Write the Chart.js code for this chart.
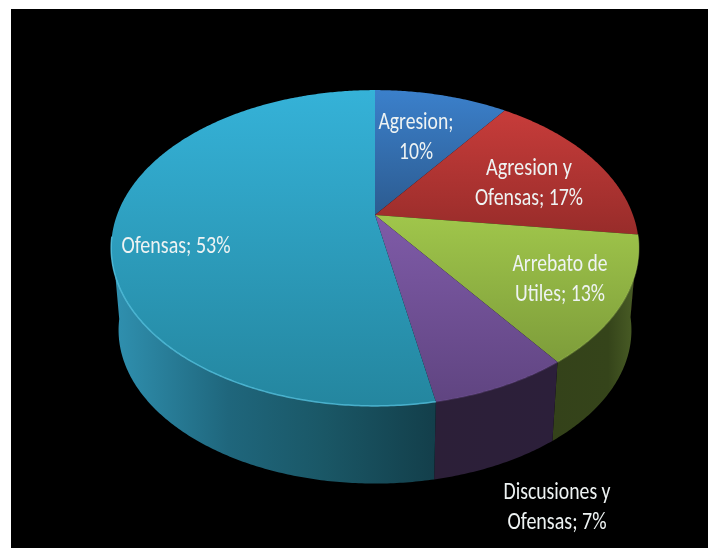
<!DOCTYPE html>
<html><head><meta charset="utf-8">
<style>html,body{margin:0;padding:0;background:#fff}canvas{display:block}</style>
<script src="https://cdn.jsdelivr.net/npm/chart.js@4"></script>
</head><body><canvas id="c" width="708" height="548"></canvas>
<script>
const categories = ['Agresion', 'Agresion y Ofensas', 'Arrebato de Utiles', 'Discusiones y Ofensas', 'Ofensas'];
const values = [10, 17, 13, 7, 53];
const labelLines = [['Agresion;', '10%'], ['Agresion y', 'Ofensas; 17%'], ['Arrebato de', 'Utiles; 13%'], ['Discusiones y', 'Ofensas; 7%'], ['Ofensas; 53%']];
const labelCentres = [[416, 122], [529, 168], [560, 264], [557, 492], [176, 246]];
const labelWidths = [[75, 34], [86, 108], [95, 90], [107, 99], [109]];
const topLight = ['#3b80cb', '#cf3f3d', '#a0c64b', '#7f5ba8', '#35b2d8'];
const topDark = ['#2c5b90', '#982c2a', '#7d9c3a', '#5f4480', '#24869f'];
const wallStops = [
  [['#1c3c60', 0], ['#1c3c60', 1]],
  [['#5a1a18', 0], ['#5a1a18', 1]],
  [['#34421a', 0], ['#35441a', .7], ['#475a24', 1]],
  [['#2c1f3a', 0], ['#2c1f38', 1]],
  [['#2f8fae', 0], ['#1f667c', .35], ['#1a5766', .65], ['#133f4b', 1]]
];
const rimColor = ['#4a90d8', '#d85452', '#a9cc5c', '#8a68b2', '#56c4e2'];
const rimAlpha = [0, 0, 0.35, 0.25, 0.8];

// Perspective of the pie disc
const P = {cx: 375, cy: 215, a: 258, b: 151, k: 0.209, wallCy: 298, wallScale: 0.972, left: 118, right: 632,
           frontFrom: 97 * Math.PI / 180, frontTo: 262 * Math.PI / 180};
function proj(theta, floor) {
  const u = Math.sin(theta), v = -Math.cos(theta), w = 1 - P.k * v;
  const s = floor ? P.wallScale : 1;
  return [P.cx + s * P.a * u / w, (floor ? P.wallCy : P.cy) + s * P.b * v / w];
}
function tracer(ctx, start, end, floor, first) {
  const n = Math.max(4, Math.ceil(Math.abs(end - start) / 0.01));
  for (let i = 0; i <= n; i++) {
    const p = proj(start + (end - start) * i / n, floor);
    if (i === 0 && first) ctx.moveTo(p[0], p[1]); else ctx.lineTo(p[0], p[1]);
  }
}
const pie3d = {
  id: 'pie3d',
  beforeDraw(chart) {
    const ctx = chart.ctx;
    ctx.save();
    ctx.fillStyle = '#fff'; ctx.fillRect(0, 0, 708, 548);
    ctx.fillStyle = '#000'; ctx.fillRect(11, 9, 697, 539);
    ctx.restore();
  },
  beforeDatasetsDraw(chart) {
    const ctx = chart.ctx;
    const arcs = chart.getDatasetMeta(0).data;
    const ang = arcs.map(a => [a.startAngle + Math.PI / 2, a.endAngle + Math.PI / 2]);
    ctx.save();
    // walls: only the part of each slice that faces the viewer
    arcs.forEach((a, i) => {
      const s = Math.max(ang[i][0], P.frontFrom), e = Math.min(ang[i][1], P.frontTo);
      if (e <= s) return;
      const x0 = i === 4 ? P.left : proj(s, true)[0], x1 = i === 4 ? proj(s, true)[0] : proj(e, true)[0];
      const g = i === 2 ? ctx.createLinearGradient(proj(e, true)[0], 0, P.right, 0) : ctx.createLinearGradient(x0, 0, x1, 0);
      wallStops[i].forEach(st => g.addColorStop(st[1], st[0]));
      ctx.fillStyle = g;
      ctx.beginPath();
      tracer(ctx, s, e, false, true);
      tracer(ctx, e, s, true, false);
      ctx.closePath();
      ctx.fill();
    });
    // top surface
    arcs.forEach((a, i) => {
      let y0 = 90, y1 = 406;
      if (i === 0) y1 = P.cy;
      if (i === 1) y1 = 234;
      if (i === 2) { y0 = P.cy; y1 = 364; }
      if (i === 3) y0 = P.cy;
      const g = ctx.createLinearGradient(0, y0, 0, y1);
      g.addColorStop(0, topLight[i]);
      g.addColorStop(1, topDark[i]);
      ctx.fillStyle = g;
      ctx.beginPath();
      ctx.moveTo(P.cx, P.cy);
      tracer(ctx, ang[i][0], ang[i][1], false, false);
      ctx.closePath();
      ctx.fill();
    });
    // lit bevel on the near rim
    ctx.lineWidth = 1.5;
    ctx.lineJoin = 'round';
    arcs.forEach((a, i) => {
      const s = Math.max(ang[i][0], P.frontFrom), e = Math.min(ang[i][1], P.frontTo);
      if (e <= s || !rimAlpha[i]) return;
      ctx.strokeStyle = rimColor[i];
      ctx.globalAlpha = rimAlpha[i];
      ctx.beginPath();
      tracer(ctx, s, e, false, true);
      ctx.stroke();
    });
    ctx.globalAlpha = 1;
    ctx.restore();
    // labels
    ctx.save();
    ctx.font = '24px Carlito, Lato, sans-serif';
    ctx.fillStyle = '#eef3f3';
    ctx.textAlign = 'center';
    ctx.textBaseline = 'middle';
    labelLines.forEach((lines, i) => {
      lines.forEach((t, j) => {
        ctx.fillText(t, labelCentres[i][0], labelCentres[i][1] + 1 + j * 30, labelWidths[i][j]);
      });
    });
    ctx.restore();
    return false;
  }
};
new Chart(document.getElementById('c'), {
  type: 'pie',
  data: {labels: categories, datasets: [{data: values, backgroundColor: topLight, borderWidth: 0}]},
  options: {
    responsive: false,
    animation: false,
    plugins: {legend: {display: false}, tooltip: {enabled: false}}
  },
  plugins: [pie3d]
});
</script></body></html>
